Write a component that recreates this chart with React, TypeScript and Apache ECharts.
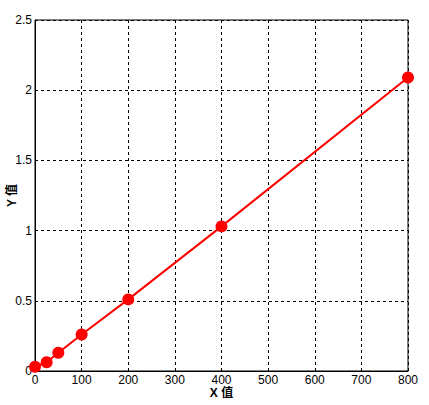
import React, { useEffect, useRef } from "react";
import * as echarts from "echarts";

const xValues = [0, 25, 50, 100, 200, 400, 800];
const yValues = [0.03, 0.062, 0.13, 0.26, 0.51, 1.03, 2.09];
const xAxisName = "X 值";
const yAxisName = "Y 值";

export default function App() {
  const ref = useRef<HTMLDivElement>(null);
  useEffect(() => {
    const chart = echarts.init(ref.current!, null, { renderer: "svg" });
    const font = "Arial, 'Liberation Sans', 'Noto Sans CJK SC', sans-serif";
    chart.setOption({
      animation: false,
      backgroundColor: "#fff",
      grid: {
        left: 35, top: 20, right: 21, bottom: 34,
        containLabel: false, outerBoundsMode: "none",
        show: true, borderColor: "#000", borderWidth: 1,
      },
      xAxis: {
        type: "value",
        min: 0,
        max: 800,
        interval: 100,
        name: xAxisName,
        nameLocation: "middle",
        nameGap: 16,
        nameMoveOverlap: false,
        nameTextStyle: { color: "#000", fontWeight: "bold", fontSize: 12, fontFamily: font },
        axisLine: { show: true, lineStyle: { color: "#000", width: 1 } },
        axisTick: { show: false },
        axisLabel: { color: "#000", fontSize: 12, margin: 3, fontFamily: font },
        splitLine: { show: true, lineStyle: { color: "#000", type: [3, 3], width: 1 } },
      },
      yAxis: {
        type: "value",
        min: 0,
        max: 2.5,
        interval: 0.5,
        name: yAxisName,
        nameLocation: "middle",
        nameGap: 17,
        nameMoveOverlap: false,
        nameRotate: 90,
        nameTextStyle: { color: "#000", fontWeight: "bold", fontSize: 12, fontFamily: font },
        axisLine: { show: true, lineStyle: { color: "#000", width: 1 } },
        axisTick: { show: false },
        axisLabel: { color: "#000", fontSize: 12, margin: 3, fontFamily: font },
        splitLine: { show: true, lineStyle: { color: "#000", type: [3, 3], width: 1 } },
      },
      series: [
        {
          type: "line",
          data: xValues.map((x, i) => [x, yValues[i]]),
          symbol: "circle",
          symbolSize: 12,
          lineStyle: { color: "#ff0000", width: 2 },
          itemStyle: { color: "#ff0000" },
        },
      ],
    });
    return () => chart.dispose();
  }, []);
  return <div ref={ref} style={{ width: 429, height: 405, position: "absolute", left: 0, top: 0 }} />;
}
